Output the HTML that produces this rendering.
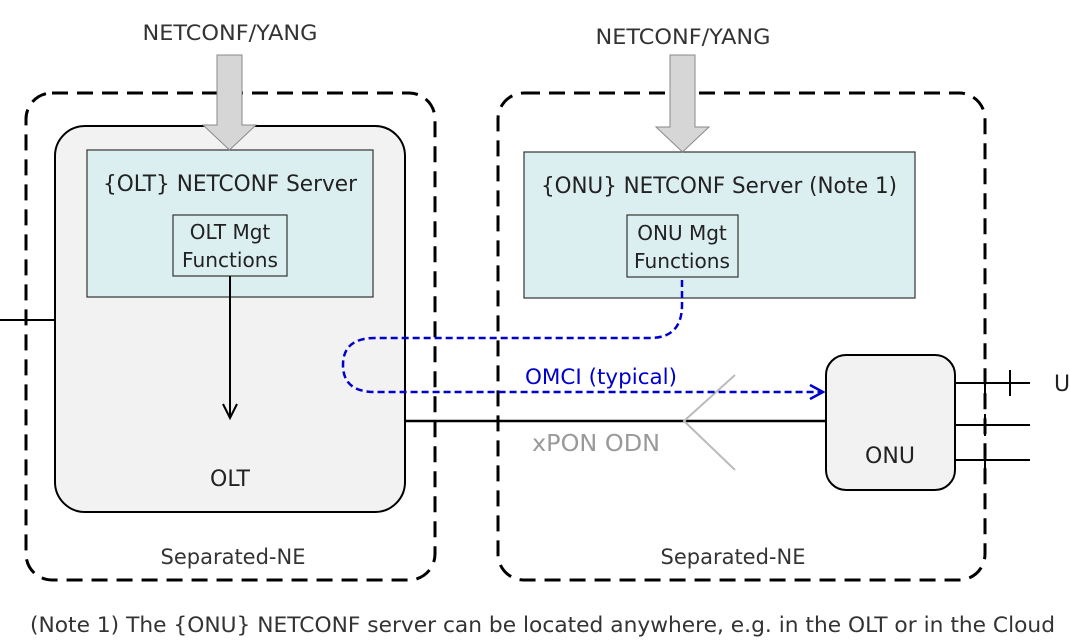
<!DOCTYPE html>
<html><head><style>body{margin:0;background:#fff}svg{display:block}</style></head><body>
<svg width="1070" height="644" xmlns="http://www.w3.org/2000/svg" font-family="'DejaVu Sans', 'Liberation Sans', sans-serif">
<rect x="26" y="93" width="409" height="487" rx="26" fill="none" stroke="#000" stroke-width="3" stroke-dasharray="16,9"/>
<rect x="498" y="93" width="487" height="487" rx="26" fill="none" stroke="#000" stroke-width="3" stroke-dasharray="16,9"/>
<line x1="0" y1="320" x2="56" y2="320" stroke="#000" stroke-width="2"/>
<rect x="55" y="126" width="350" height="386" rx="30" fill="#f2f2f2" stroke="#000" stroke-width="2"/>
<rect x="87" y="150" width="286" height="147" fill="#dbeef0" stroke="#333" stroke-width="1.2"/>
<rect x="173" y="215" width="114" height="61" fill="#dbeef0" stroke="#333" stroke-width="1.2"/>
<rect x="524" y="152" width="391" height="146" fill="#dbeef0" stroke="#333" stroke-width="1.2"/>
<rect x="627" y="215" width="111" height="62" fill="#dbeef0" stroke="#333" stroke-width="1.2"/>
<polygon points="217,55 242,55 242,125 256,125 229.5,150 203,125 217,125" fill="#d6d6d6" stroke="#888" stroke-width="1"/>
<polygon points="670,55 695,55 695,127 709,127 682.5,152 656,127 670,127" fill="#d6d6d6" stroke="#888" stroke-width="1"/>
<line x1="230" y1="276" x2="230" y2="416" stroke="#000" stroke-width="2"/>
<polyline points="223,404 230,418 237,404" fill="none" stroke="#000" stroke-width="2"/>
<line x1="405" y1="421" x2="826" y2="421" stroke="#000" stroke-width="2.5"/>
<polyline points="735,375 684,421 735,470" fill="none" stroke="#bbb" stroke-width="2"/>
<path d="M682,280 L682,305 Q682,338 650,338 L375,338 Q343,338 343,365 Q343,392 375,392 L822,392" fill="none" stroke="#0000cc" stroke-width="2.5" stroke-dasharray="7,4"/>
<polyline points="810,385 823,392 810,399" fill="none" stroke="#0000cc" stroke-width="2.5"/>
<rect x="826" y="355" width="129" height="135" rx="20" fill="#f2f2f2" stroke="#000" stroke-width="2"/>
<g stroke="#000" stroke-width="2">
<line x1="955" y1="383" x2="1030" y2="383"/><line x1="955" y1="425" x2="1030" y2="425"/><line x1="955" y1="460" x2="1030" y2="460"/>
<line x1="1010" y1="370" x2="1010" y2="396"/><line x1="985" y1="372" x2="985" y2="394"/><line x1="985" y1="414" x2="985" y2="436"/><line x1="985" y1="449" x2="985" y2="471"/>
</g>
<g font-size="20" fill="#222" text-anchor="middle">
<text x="230" y="40" fill="#333" font-size="21.5" textLength="175" lengthAdjust="spacingAndGlyphs">NETCONF/YANG</text>
<text x="683" y="44" fill="#333" font-size="21.5" textLength="175" lengthAdjust="spacingAndGlyphs">NETCONF/YANG</text>
<text x="230" y="191" font-size="22" textLength="254" lengthAdjust="spacingAndGlyphs">{OLT} NETCONF Server</text>
<text x="230" y="239">OLT Mgt</text><text x="230" y="267" textLength="96" lengthAdjust="spacingAndGlyphs">Functions</text>
<text x="719" y="193" font-size="22" textLength="356" lengthAdjust="spacingAndGlyphs">{ONU} NETCONF Server (Note 1)</text>
<text x="682" y="240">ONU Mgt</text><text x="682" y="268" textLength="96" lengthAdjust="spacingAndGlyphs">Functions</text>
<text x="601" y="384" fill="#0000cc" font-size="21" textLength="152" lengthAdjust="spacingAndGlyphs">OMCI (typical)</text>
<text x="596" y="451" fill="#999" font-size="23" textLength="128" lengthAdjust="spacingAndGlyphs">xPON ODN</text>
<text x="230" y="486" font-size="22">OLT</text>
<text x="890" y="463" font-size="22">ONU</text>
<text x="233" y="564" fill="#333" font-size="21" textLength="145" lengthAdjust="spacingAndGlyphs">Separated-NE</text>
<text x="733" y="564" fill="#333" font-size="21" textLength="145" lengthAdjust="spacingAndGlyphs">Separated-NE</text>
<text x="1062" y="391" font-size="22">U</text>
</g>
<text x="30" y="632" font-size="21" fill="#333" textLength="1025" lengthAdjust="spacingAndGlyphs">(Note 1) The {ONU} NETCONF server can be located anywhere, e.g. in the OLT or in the Cloud</text>
</svg>
</body></html>
